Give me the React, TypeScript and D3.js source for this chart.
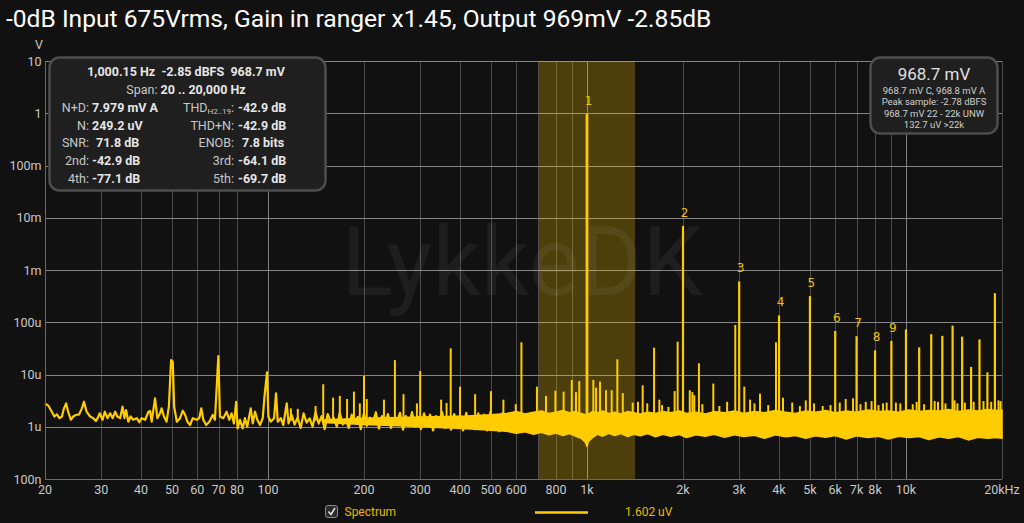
import React, { useEffect, useRef } from "react";
import * as d3 from "d3";

const W = 1024;
const H = 523;

const titleText = "-0dB Input 675Vrms, Gain in ranger x1.45, Output 969mV -2.85dB";

// axis ticks
const xGridFreqs = [20, 30, 40, 50, 60, 70, 80, 100, 200, 300, 400, 500, 600, 700, 800, 900, 1000, 2000, 3000, 4000, 5000, 6000, 7000, 8000, 9000, 10000, 20000];
const xTickFreqs = [20, 30, 40, 50, 60, 70, 80, 100, 200, 300, 400, 500, 600, 800, 1000, 2000, 3000, 4000, 5000, 6000, 7000, 8000, 10000, 20000];
const xTickLabels = ["20", "30", "40", "50", "60", "70", "80", "100", "200", "300", "400", "500", "600", "800", "1k", "2k", "3k", "4k", "5k", "6k", "7k", "8k", "10k", "20kHz"];
const yTickValues = [10, 1, 0.1, 0.01, 0.001, 1e-4, 1e-5, 1e-6, 1e-7];
const yTickLabels = ["10", "1", "100m", "10m", "1m", "100u", "10u", "1u", "100n"];

// low-frequency part of the spectrum trace (Hz, uV)
const lowFreqs = [20, 20.5, 21, 21.4, 21.8, 22.2, 22.6, 22.9, 23.3, 23.6, 24.1, 24.5, 25, 25.6, 26.1, 26.5, 27, 27.7, 28.3, 28.9, 29.4, 29.7, 30.3, 30.8, 31.4, 32, 32.6, 33.2, 33.7, 34.4, 35, 35.5, 35.9, 36.5, 37.1, 37.8, 38.8, 39.5, 40.2, 41.2, 42.2, 42.7, 43.2, 44.25, 45, 45.9, 46.4, 47.2, 48.1, 48.9, 49.7, 50.3, 50.8, 51.8, 53, 54.1, 55, 55.9, 57, 58.1, 59.8, 60.9, 61.8, 62.7, 64, 65.5, 67.1, 68.2, 69.9, 70.7, 72.4, 74.2, 75.6, 76.9, 78.2, 79.5, 80.3, 81.7, 83.3, 84.7, 86.1, 88.3, 89.6, 91.1, 92.6, 94.4, 96.3, 97.4, 99.3, 100.3, 102, 104.5, 106, 107.3, 109.7, 111.7, 114.5, 116];
const lowLevels = [2.8, 2.52, 1.94, 1.57, 1.73, 1.46, 1.57, 2.19, 2.8, 2.0, 1.36, 1.57, 1.68, 1.73, 2.25, 3.01, 1.94, 1.57, 1.46, 1.29, 1.57, 1.81, 1.36, 1.94, 1.46, 1.81, 1.46, 1.94, 1.57, 1.46, 2.42, 1.46, 2.09, 1.25, 1.57, 1.36, 1.46, 1.22, 1.46, 1.36, 1.94, 2.0, 1.25, 3.5, 1.46, 1.81, 2.25, 1.57, 1.25, 2.42, 18.9, 17.6, 2.42, 1.25, 1.46, 2.03, 1.68, 1.25, 1.08, 1.46, 1.36, 1.46, 2.25, 1.36, 1.08, 1.25, 1.68, 1.36, 22.6, 1.57, 1.46, 1.94, 1.36, 1.81, 1.16, 3.01, 0.93, 1.36, 0.93, 1.46, 1.0, 2.25, 1.16, 1.94, 1.36, 1.08, 1.46, 3.5, 11.0, 1.57, 1.25, 1.46, 4.37, 1.25, 1.46, 1.08, 2.8, 1.16];

// mid part of the trace, where the floor gets dense (Hz, uV)
const midFreqs = [116, 118.6, 121.2, 123.8, 126.6, 129.3, 132.2, 135.1, 138, 141, 144.2, 147.3, 150.6, 153.9, 157.3, 160.7, 164.3, 167.9, 171.6, 175.3, 179.2, 183.1, 187.2, 191.3, 195.5, 199.8, 204.2, 208.6, 213.2, 217.9, 222.7, 227.6, 232.6, 237.7, 242.9, 248.3, 253.7, 259.3, 265, 270.8, 276.8, 282.9, 289.1, 295.4, 301.9, 308.5, 315.3, 322.2, 329.3, 336.6, 344, 351.5, 359.2, 367.1, 375.2, 383.5, 391.9, 400.5, 409.3, 418.3, 427.5, 436.9, 446.5, 456.3, 466.3, 476.6, 487, 497.8, 508.7, 519.9, 531.3, 543, 555, 567];
const midLevels = [1.16, 1.7, 1.1, 1.5, 0.95, 1.8, 1.2, 1.45, 1.0, 1.9, 1.15, 1.6, 0.9, 1.75, 1.25, 1.5, 1.0, 1.85, 1.1, 1.4, 0.95, 1.7, 1.2, 1.55, 0.9, 1.8, 1.05, 1.5, 1.2, 1.9, 0.92, 1.6, 1.1, 1.75, 0.95, 1.45, 1.2, 1.85, 0.88, 1.6, 1.1, 1.9, 1.0, 1.55, 0.9, 1.8, 1.15, 1.7, 0.85, 1.6, 1.05, 1.9, 0.95, 1.5, 0.88, 1.75, 1.1, 1.65, 0.85, 1.85, 1.0, 1.6, 0.9, 1.8, 1.05, 1.7, 0.85, 1.9, 0.95, 1.65, 0.82, 1.8, 0.9, 1.75];

// dense noise floor: upper / lower envelope (Hz, uV)
const noiseFreqs = [150, 200, 260, 330, 420, 500, 560, 600, 640, 680, 720, 760, 800, 840, 880, 920, 960, 990, 1000, 1010, 1040, 1080, 1120, 1170, 1220, 1280, 1340, 1400, 1470, 1550, 1640, 1730, 1830, 1950, 2050, 2200, 2350, 2500, 2700, 2900, 3100, 3350, 3600, 3900, 4200, 4500, 4850, 5200, 5600, 6000, 6500, 7000, 7600, 8200, 8800, 9500, 10200, 11000, 11800, 12700, 13600, 14600, 15700, 16800, 18000, 19200, 20000];
const noiseUpper = [1.35, 1.45, 1.5, 1.55, 1.6, 1.7, 1.8, 1.95, 1.75, 1.9, 2.0, 1.8, 1.9, 2.05, 1.85, 1.95, 1.8, 1.7, 1.5, 1.75, 1.95, 1.85, 2.0, 1.8, 1.9, 1.75, 1.95, 1.85, 1.75, 1.9, 1.8, 1.95, 1.85, 2.0, 1.8, 1.9, 1.75, 1.95, 1.85, 2.0, 1.8, 1.95, 1.85, 2.05, 1.9, 1.8, 2.0, 1.9, 2.05, 1.85, 2.0, 1.9, 2.1, 1.95, 2.0, 1.9, 2.1, 1.95, 2.05, 2.0, 2.15, 1.95, 2.1, 2.0, 2.15, 2.05, 2.1];
const noiseLower = [1.2, 1.1, 1.05, 0.98, 0.92, 0.86, 0.82, 0.75, 0.8, 0.72, 0.78, 0.7, 0.76, 0.68, 0.74, 0.66, 0.6, 0.5, 0.42, 0.52, 0.62, 0.72, 0.66, 0.75, 0.68, 0.74, 0.65, 0.72, 0.67, 0.74, 0.64, 0.72, 0.66, 0.71, 0.62, 0.7, 0.66, 0.72, 0.63, 0.7, 0.65, 0.69, 0.6, 0.7, 0.64, 0.68, 0.6, 0.67, 0.63, 0.68, 0.58, 0.67, 0.62, 0.66, 0.58, 0.66, 0.62, 0.65, 0.57, 0.64, 0.6, 0.65, 0.56, 0.63, 0.6, 0.62, 0.6];

// harmonics (Hz, V)
const harmonicFreqs = [1000, 2000, 3000, 4000, 5000, 6000, 7000, 8000, 9000];
const harmonicLevels = [0.9687, 6.94e-3, 6.04e-4, 1.35e-4, 3.17e-4, 6.8e-5, 5.4e-5, 2.9e-5, 4.4e-5];
const harmonicLabels = ["1", "2", "3", "4", "5", "6", "7", "8", "9"];

// higher unlabeled harmonics (Hz, V)
const highHarmFreqs = [10000, 11000, 12000, 13000, 14000, 15000, 16000, 17000, 18000, 19000];
const highHarmLevels = [7.3e-5, 3.3e-5, 5.9e-5, 5.5e-5, 8.6e-5, 5.3e-5, 1.4e-5, 4.7e-5, 1.1e-5, 3.6e-4];

// other spurs (Hz, uV)
const spurFreqs = [118, 124, 141, 149, 160, 168, 177, 186, 194, 200, 204, 231, 250, 266, 293, 300, 349, 363, 374, 400, 446, 500, 547, 598, 623, 697, 744, 796, 845, 896, 924, 946, 1047, 1068, 1099, 1147, 1195, 1245, 1295, 1391, 1445, 1495, 1545, 1623, 1686, 1720, 1800, 1883, 1924, 2100, 2140, 2170, 2244, 2300, 2489, 2600, 2750, 2917, 3113, 3245, 3350, 3487, 3700, 3913, 4117, 4400, 4650, 4852, 5150, 5483, 5800, 6200, 6472, 6824, 7200, 7480, 7800, 8200, 8471, 8700, 9300, 9600, 10500, 10800, 11400, 12300, 12600, 13300, 14200, 14500, 15300, 16300, 17500, 18500, 19500, 19800];
const spurLevels = [2.25, 2.2, 2.5, 6.5, 3.6, 3.9, 3.4, 4.7, 2.8, 9.4, 3.4, 3.3, 18.9, 4.2, 2.8, 11.7, 3.3, 2.85, 31.7, 5.85, 4.2, 4.8, 3.3, 2.7, 41.3, 5.85, 3.9, 4.9, 4.7, 7.85, 4.6, 7.5, 7.9, 5.6, 7.3, 5.0, 5.0, 19.5, 4.4, 2.9, 3.0, 6.2, 2.8, 32.6, 3.3, 2.6, 2.4, 4.8, 42.5, 5.0, 4.6, 4.0, 16.4, 2.7, 6.7, 2.5, 3.0, 88.6, 5.85, 3.3, 2.8, 4.3, 2.6, 41.3, 3.6, 2.9, 2.5, 3.2, 2.8, 2.5, 2.6, 2.9, 3.4, 3.5, 2.7, 3.0, 3.1, 2.6, 2.8, 2.9, 2.9, 2.8, 2.7, 3.0, 2.7, 3.1, 3.0, 2.8, 3.2, 2.8, 2.9, 3.0, 3.1, 3.0, 3.2, 3.1];

const highlightBand = [707.1, 1414.2];

const YELLOW = "#ffcc00";
const FONT = "Roboto, 'Liberation Sans', Arial, sans-serif";

export default function App() {
  const ref = useRef<SVGSVGElement>(null);

  useEffect(() => {
    document.body.style.margin = "0";
    document.body.style.background = "#111111";
    const svg = d3.select(ref.current as SVGSVGElement);
    svg.selectAll("*").remove();

    const x = d3.scaleLog().domain([20, 20000]).range([45, 1002]);
    const y = d3.scaleLog().domain([1e-7, 10]).range([479, 61]);
    const [yTop, yBot] = [y(10), y(1e-7)];

    svg.append("rect").attr("width", W).attr("height", H).attr("fill", "#111111");

    // gridlines
    const grid = svg.append("g");
    xGridFreqs.forEach((f) => {
      const decade = Math.abs(Math.log10(f) - Math.round(Math.log10(f))) < 1e-9;
      grid.append("line")
        .attr("x1", Math.round(x(f)) + 0.5).attr("x2", Math.round(x(f)) + 0.5)
        .attr("y1", yTop).attr("y2", yBot)
        .attr("stroke", decade ? "#808080" : "#4a4a4a").attr("stroke-width", 1);
    });
    yTickValues.forEach((v) => {
      grid.append("line")
        .attr("x1", 45).attr("x2", 1002)
        .attr("y1", Math.round(y(v)) + 0.5).attr("y2", Math.round(y(v)) + 0.5)
        .attr("stroke", "#858585").attr("stroke-width", 1);
    });

    // highlight band
    svg.append("rect")
      .attr("x", x(highlightBand[0])).attr("y", yTop)
      .attr("width", x(highlightBand[1]) - x(highlightBand[0]))
      .attr("height", yBot - yTop)
      .attr("fill", "rgba(255,204,0,0.25)");

    // watermark
    svg.append("text")
      .attr("x", 522).attr("y", 295)
      .attr("text-anchor", "middle")
      .attr("font-family", FONT).attr("font-size", 96)
      .attr("fill", "rgba(255,255,255,0.055)")
      .text("LykkeDK");

    // noise band
    const noiseData = noiseFreqs.map((f, i) => ({ f, lo: noiseLower[i] * 1e-6, hi: noiseUpper[i] * 1e-6 }));
    const area = d3.area<any>().x((d) => x(d.f)).y0((d) => y(d.lo)).y1((d) => y(d.hi));
    svg.append("path").attr("d", area(noiseData) as string)
      .attr("fill", YELLOW).attr("stroke", YELLOW).attr("stroke-width", 1.5).attr("stroke-linejoin", "round");

    // low + mid trace
    const traceData = lowFreqs.map((f, i) => [f, lowLevels[i] * 1e-6] as [number, number])
      .concat(midFreqs.slice(1).map((f, i) => [f, midLevels[i + 1] * 1e-6] as [number, number]));
    const line = d3.line<[number, number]>().x((d) => x(d[0])).y((d) => y(d[1]));
    svg.append("path").attr("d", line(traceData) as string)
      .attr("fill", "none").attr("stroke", YELLOW).attr("stroke-width", 2.2)
      .attr("stroke-linejoin", "round");

    // spurs
    const base = 1.3e-6;
    spurFreqs.forEach((f, i) => {
      svg.append("line")
        .attr("x1", x(f)).attr("x2", x(f))
        .attr("y1", y(base)).attr("y2", y(spurLevels[i] * 1e-6))
        .attr("stroke", YELLOW).attr("stroke-width", 2);
    });
    highHarmFreqs.forEach((f, i) => {
      svg.append("line")
        .attr("x1", x(f)).attr("x2", x(f))
        .attr("y1", y(base)).attr("y2", y(highHarmLevels[i]))
        .attr("stroke", YELLOW).attr("stroke-width", 2.2);
    });
    harmonicFreqs.forEach((f, i) => {
      svg.append("line")
        .attr("x1", x(f)).attr("x2", x(f))
        .attr("y1", y(base)).attr("y2", y(harmonicLevels[i]))
        .attr("stroke", YELLOW).attr("stroke-width", i === 0 ? 2.8 : 2.2);
      svg.append("text")
        .attr("x", x(f) + 1.5).attr("y", y(harmonicLevels[i]) - 9)
        .attr("text-anchor", "middle")
        .attr("font-family", "'DejaVu Sans', sans-serif").attr("font-size", 12)
        .attr("fill", "#f2c200")
        .text(harmonicLabels[i]);
    });

    // axes
    svg.append("line").attr("x1", 45.5).attr("x2", 45.5).attr("y1", yTop).attr("y2", yBot + 0.5)
      .attr("stroke", "#6a6a6a");
    svg.append("line").attr("x1", 45).attr("x2", 1002).attr("y1", Math.round(yBot) + 0.5).attr("y2", Math.round(yBot) + 0.5)
      .attr("stroke", "#6a6a6a");

    const tickStyle = (s: any) => s.attr("font-family", FONT).attr("font-size", 12.5).attr("fill", "#c8c8c8");
    xTickFreqs.forEach((f, i) => {
      tickStyle(svg.append("text"))
        .attr("x", x(f)).attr("y", 494)
        .attr("text-anchor", "middle")
        .text(xTickLabels[i]);
    });
    yTickValues.forEach((v, i) => {
      tickStyle(svg.append("text"))
        .attr("x", 41.5).attr("y", y(v) + 4.5)
        .attr("text-anchor", "end")
        .text(yTickLabels[i]);
    });
    tickStyle(svg.append("text")).attr("x", 39).attr("y", 49).attr("text-anchor", "middle").text("V");

    // left info box
    const box = svg.append("g");
    box.append("rect").attr("x", 49.5).attr("y", 57.5).attr("width", 276).attr("height", 133)
      .attr("rx", 10).attr("fill", "#1f1f1f").attr("stroke", "#4d4d4d").attr("stroke-width", 2.5);
    const fs = 12.5;
    const lab = "#c8c8c8";
    const val = "#e6e6e6";
    box.append("text").attr("x", 186).attr("y", 76).attr("text-anchor", "middle")
      .attr("font-family", FONT).attr("font-size", fs).attr("font-weight", "bold").attr("fill", val)
      .attr("xml:space", "preserve").style("white-space", "pre").text("1,000.15 Hz  -2.85 dBFS  968.7 mV");
    const t2 = box.append("text").attr("x", 186).attr("y", 94).attr("text-anchor", "middle")
      .attr("font-family", FONT).attr("font-size", fs).style("white-space", "pre");
    t2.append("tspan").attr("fill", lab).text("Span: ");
    t2.append("tspan").attr("fill", val).attr("font-weight", "bold").text("20 .. 20,000 Hz");

    const rowsY = [112, 129.5, 147, 165, 182.5];
    const leftLabels = ["N+D:", "N:", "SNR:", "2nd:", "4th:"];
    const leftValues = ["7.979 mV A", "249.2 uV", "71.8 dB", "-42.9 dB", "-77.1 dB"];
    const leftValX = [92, 92, 96, 92, 92];
    const rightLabels = ["THD", "THD+N:", "ENOB:", "3rd:", "5th:"];
    const rightValues = ["-42.9 dB", "-42.9 dB", "7.8 bits", "-64.1 dB", "-69.7 dB"];
    const rightValX = [238, 238, 242, 238, 238];
    rowsY.forEach((ry, i) => {
      box.append("text").attr("x", 89).attr("y", ry).attr("text-anchor", "end")
        .attr("font-family", FONT).attr("font-size", fs).attr("fill", lab).text(leftLabels[i]);
      box.append("text").attr("x", leftValX[i]).attr("y", ry)
        .attr("font-family", FONT).attr("font-size", fs).attr("font-weight", "bold").attr("fill", val).text(leftValues[i]);
      const rl = box.append("text").attr("x", 234).attr("y", ry).attr("text-anchor", "end")
        .attr("font-family", FONT).attr("font-size", fs).attr("fill", lab);
      if (i === 0) {
        rl.append("tspan").text("THD");
        rl.append("tspan").attr("font-size", 8).attr("dy", 2).text("H2..19");
        rl.append("tspan").attr("dy", -2).text(":");
      } else {
        rl.text(rightLabels[i]);
      }
      box.append("text").attr("x", rightValX[i]).attr("y", ry)
        .attr("font-family", FONT).attr("font-size", fs).attr("font-weight", "bold").attr("fill", val).text(rightValues[i]);
    });

    // right info box
    const rb = svg.append("g");
    rb.append("rect").attr("x", 870.5).attr("y", 57.5).attr("width", 127).attr("height", 76)
      .attr("rx", 10).attr("fill", "#1f1f1f").attr("stroke", "#4d4d4d").attr("stroke-width", 2.5);
    rb.append("text").attr("x", 934).attr("y", 79.5).attr("text-anchor", "middle")
      .attr("font-family", FONT).attr("font-size", 17).attr("fill", "#e0e0e0").text("968.7 mV");
    const small = ["968.7 mV C, 968.8 mV A", "Peak sample: -2.78 dBFS", "968.7 mV 22 - 22k UNW", "132.7 uV >22k"];
    const smallY = [93.5, 105, 116.5, 128];
    small.forEach((s, i) => {
      rb.append("text").attr("x", 934).attr("y", smallY[i]).attr("text-anchor", "middle")
        .attr("font-family", FONT).attr("font-size", 9.5).attr("fill", "#cfcfcf").text(s);
    });

    // title
    svg.append("text").attr("x", 6).attr("y", 27)
      .attr("font-family", FONT).attr("font-size", 24.6).attr("fill", "#ffffff").text(titleText);

    // legend
    const lg = svg.append("g");
    lg.append("rect").attr("x", 325.5).attr("y", 505.5).attr("width", 12).attr("height", 12).attr("rx", 2.5)
      .attr("fill", "#2a2a2a").attr("stroke", "#8a8a8a").attr("stroke-width", 1);
    lg.append("path").attr("d", "M328.5,511.5 L331,514.5 L335,508").attr("fill", "none")
      .attr("stroke", "#e0e0e0").attr("stroke-width", 1.6);
    lg.append("text").attr("x", 344.5).attr("y", 516).attr("font-family", FONT).attr("font-size", 12)
      .attr("fill", "#e6b800").text("Spectrum");
    lg.append("line").attr("x1", 535).attr("x2", 588).attr("y1", 512.5).attr("y2", 512.5)
      .attr("stroke", YELLOW).attr("stroke-width", 2.5);
    lg.append("text").attr("x", 625).attr("y", 516).attr("font-family", FONT).attr("font-size", 12)
      .attr("fill", "#e6b800").text("1.602 uV");
  }, []);

  return <svg ref={ref} width={W} height={H} style={{ display: "block", background: "#111111" }} />;
}
